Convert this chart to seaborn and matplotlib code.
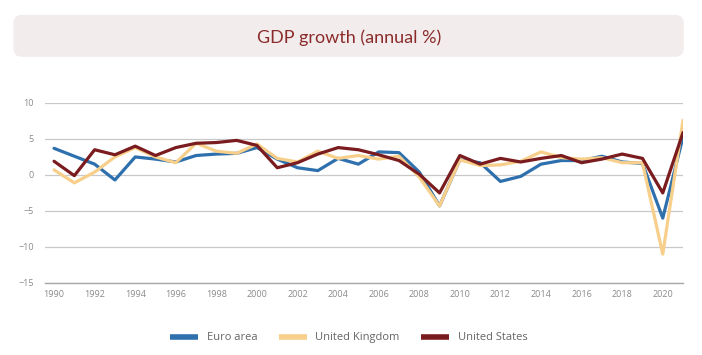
import numpy as np
import pandas as pd
import matplotlib
matplotlib.use('Agg')
import matplotlib.pyplot as plt
from matplotlib.patches import FancyBboxPatch
import seaborn as sns

# Data
years = list(range(1990, 2022))
euro_area = [3.7, 2.6, 1.5, -0.7, 2.5, 2.2, 1.8, 2.7, 2.9, 3.0, 3.8, 2.2, 1.0, 0.6,
             2.3, 1.5, 3.2, 3.1, 0.4, -4.3, 2.1, 1.7, -0.9, -0.2, 1.5, 2.0, 2.0,
             2.6, 1.8, 1.6, -6.0, 5.3]
united_kingdom = [0.7, -1.1, 0.4, 2.5, 3.8, 2.5, 1.7, 4.4, 3.3, 3.0, 4.3, 2.3, 1.8,
                  3.3, 2.3, 2.7, 2.2, 2.6, -0.3, -4.3, 2.1, 1.3, 1.4, 1.9, 3.2, 2.4,
                  2.2, 2.4, 1.7, 1.7, -11.0, 7.6]
united_states = [1.9, -0.1, 3.5, 2.8, 4.0, 2.7, 3.8, 4.4, 4.5, 4.8, 4.1, 1.0, 1.7,
                 2.9, 3.8, 3.5, 2.8, 2.0, 0.1, -2.5, 2.7, 1.5, 2.3, 1.8, 2.3, 2.7,
                 1.7, 2.2, 2.9, 2.3, -2.5, 5.9]
series_names = ['Euro area', 'United Kingdom', 'United States']
colors = ['#2e6fad', '#f7cf8a', '#7a1c1f']
y_ticks = [10, 5, 0, -5, -10, -15]
x_ticks = list(range(1990, 2021, 2))
title = 'GDP growth (annual %)'

df = pd.DataFrame({'Year': years, series_names[0]: euro_area,
                   series_names[1]: united_kingdom, series_names[2]: united_states})
long_df = df.melt(id_vars='Year', var_name='Series', value_name='Growth')

sns.set_style('white')
plt.rcParams['font.family'] = ['Open Sans', 'DejaVu Sans']

fig = plt.figure(figsize=(7.02, 3.55), dpi=100)
ax = fig.add_axes([0.064, 0.203, 0.909, 0.507])

# title box
box = FancyBboxPatch((0.019, 0.840), 0.955, 0.118, transform=fig.transFigure,
                     boxstyle='round,pad=0,rounding_size=0.012',
                     facecolor='#f3ecec', edgecolor='none', mutation_aspect=2)
fig.patches.append(box)
fig.text(0.497, 0.895, title, ha='center', va='center', fontsize=13,
         color='#8a2c2c', family=['Lato', 'DejaVu Sans'])

sns.lineplot(data=long_df, x='Year', y='Growth', hue='Series',
             palette=dict(zip(series_names, colors)), linewidth=2.3,
             ax=ax, legend=False)

ax.set_xlim(1989.55, 2021)
ax.set_ylim(-15, 10)
ax.set_yticks(y_ticks)
ax.set_xticks(x_ticks)
ax.set_xlabel('')
ax.set_ylabel('')
ax.grid(axis='y', color='#c8c8c8', linewidth=0.9)
ax.set_axisbelow(True)
for s in ['top', 'right', 'left']:
    ax.spines[s].set_visible(False)
ax.spines['bottom'].set_color('#a8a8a8')
ax.spines['bottom'].set_linewidth(1.0)
ax.tick_params(axis='both', length=0, labelsize=6.5, labelcolor='#8a8a8a')
ax.tick_params(axis='x', pad=5)
ax.tick_params(axis='y', pad=8)

handles = [plt.Line2D([], [], color=c, linewidth=4, solid_capstyle='butt')
           for c in colors]
fig.legend(handles, series_names, loc='center', bbox_to_anchor=(0.497, 0.048),
           ncol=3, frameon=False, fontsize=8, handlelength=2.5,
           columnspacing=1.9, handletextpad=0.8, labelcolor='#666666')

plt.savefig('out.png', dpi=100)
